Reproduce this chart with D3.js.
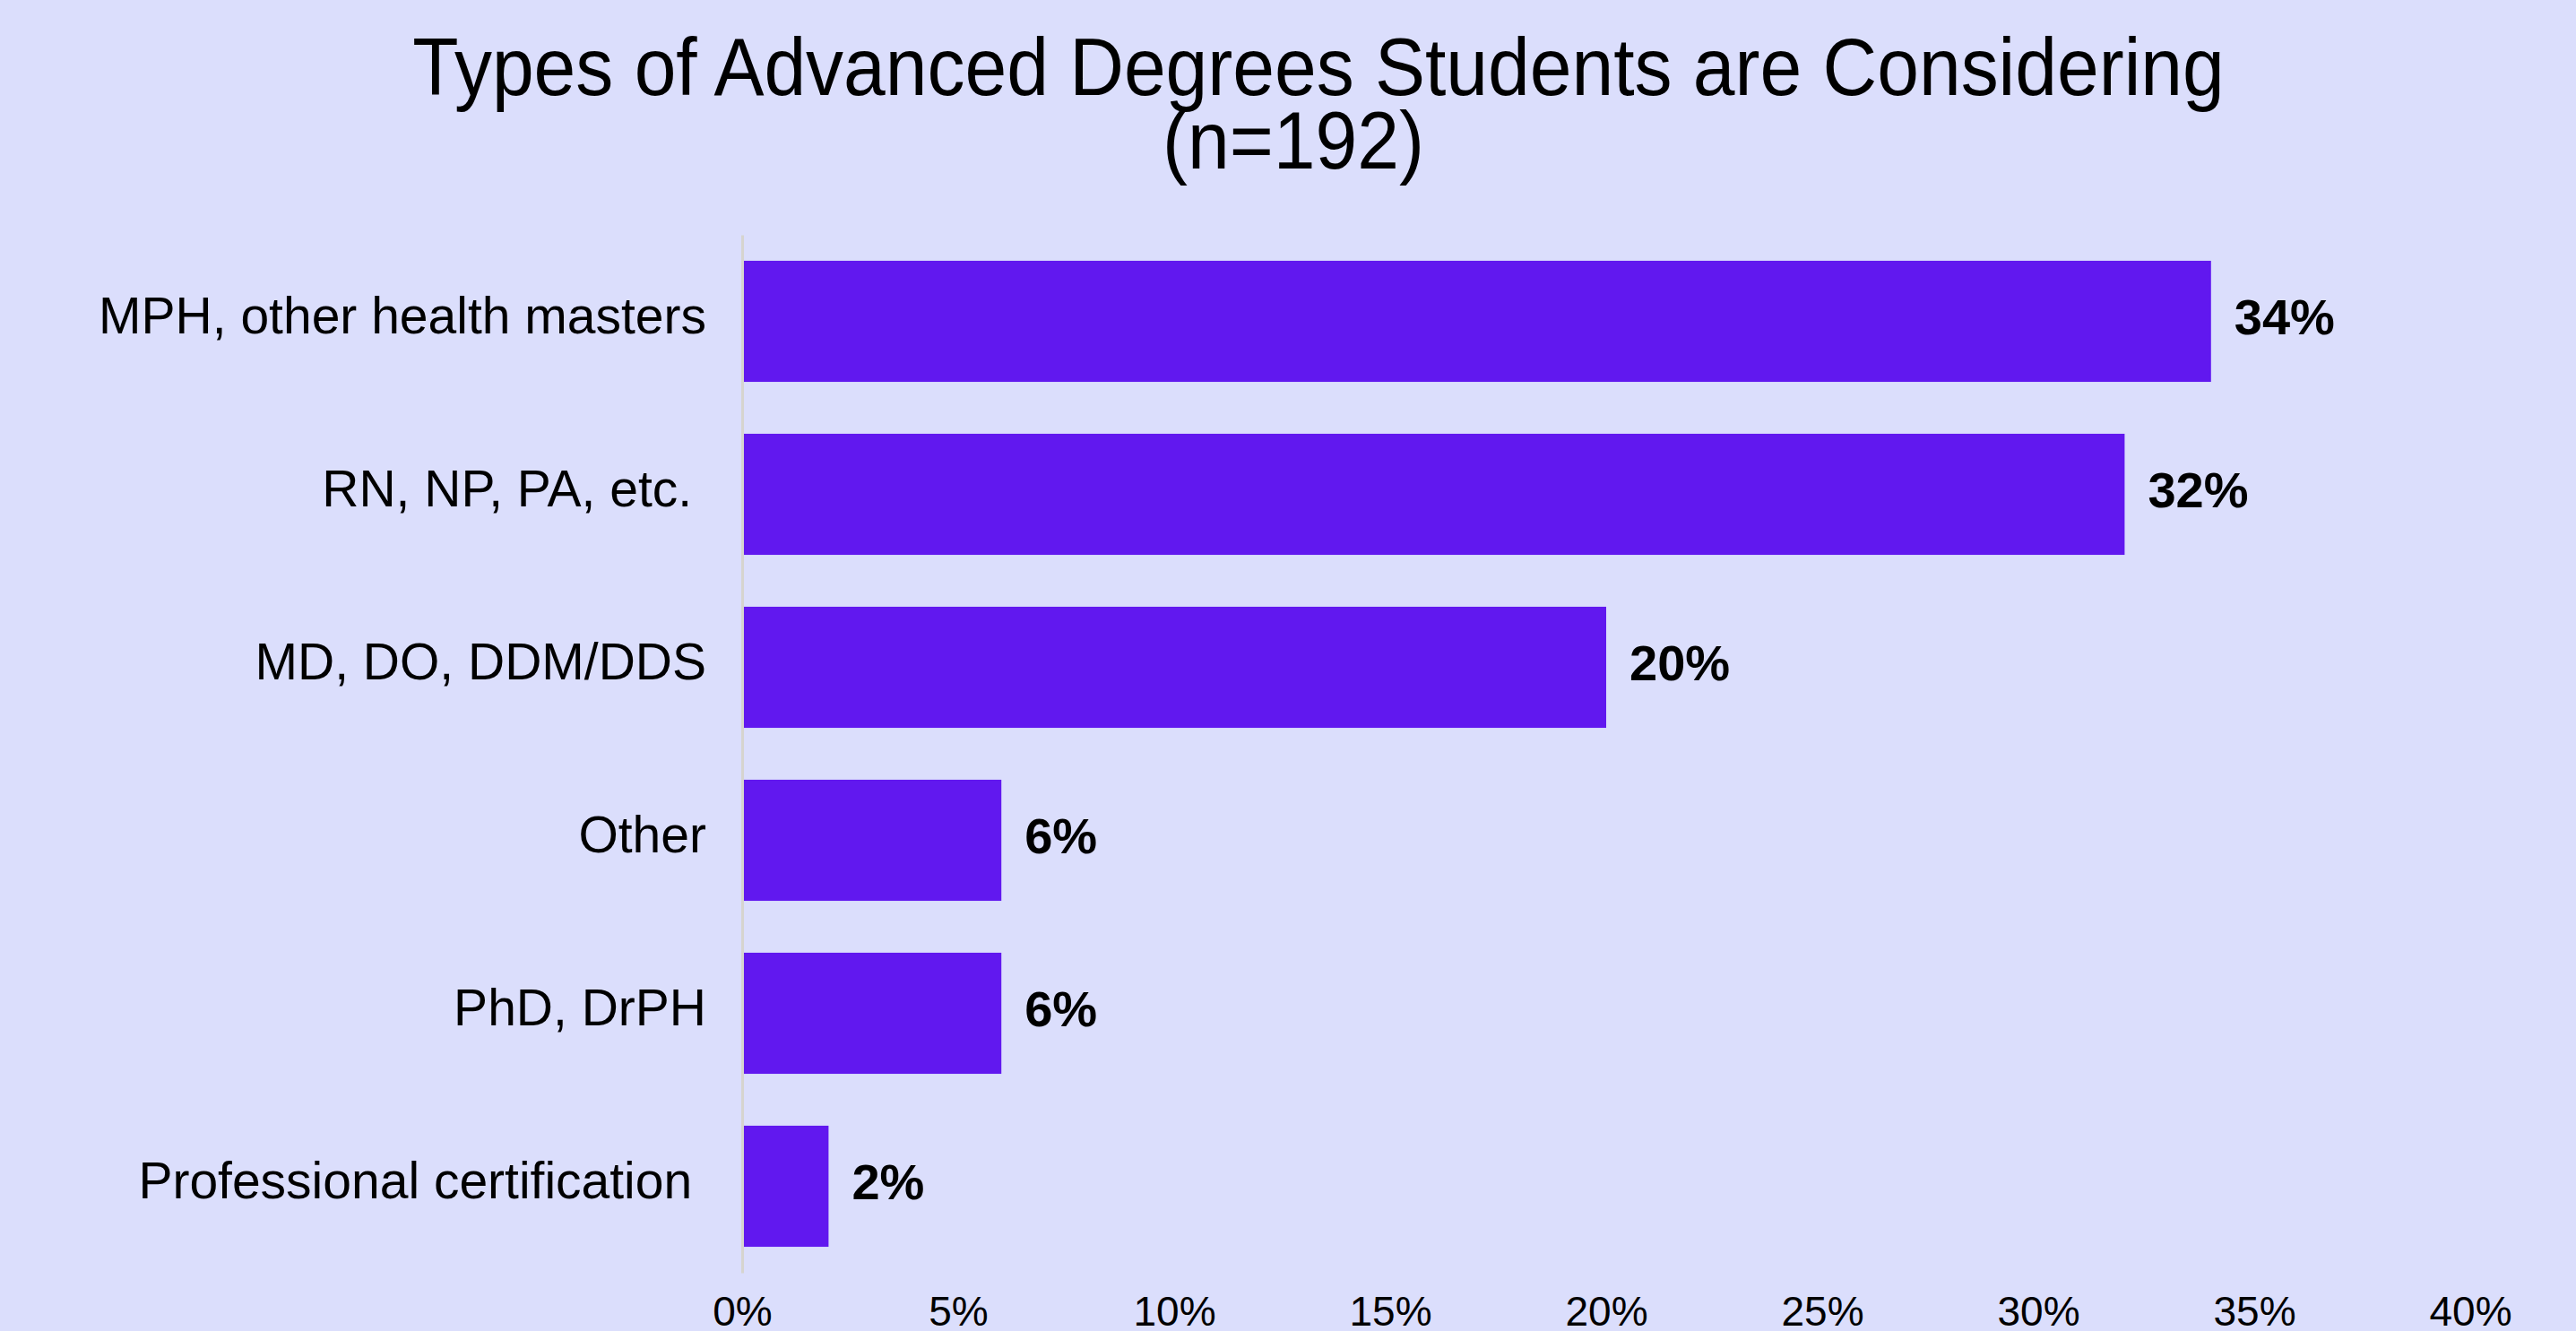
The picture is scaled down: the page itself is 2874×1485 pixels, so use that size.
<!DOCTYPE html>
<html>
<head>
<meta charset="utf-8">
<script src="https://cdn.jsdelivr.net/npm/d3@7"></script>
<style>
  body { margin: 0; background: #dbdefc; }
  svg { display: block; font-family: "Liberation Sans", Arial, Helvetica, sans-serif; }
</style>
</head>
<body>
<script>
// chart data
var categories = ["MPH, other health masters", "RN, NP, PA, etc. ", "MD, DO, DDM/DDS",
                  "Other", "PhD, DrPH", "Professional certification "];
var values = [34, 32, 20, 6, 6, 2];
var tickValues = [0, 5, 10, 15, 20, 25, 30, 35, 40];
var titleLines = ["Types of Advanced Degrees Students are Considering", "(n=192)"];

var w = 2874, h = 1485;

var svg = d3.select("body")
            .append("svg")
            .attr("width", w)
            .attr("height", h);

svg.append("rect")
   .attr("width", w)
   .attr("height", h)
   .attr("fill", "#dbdefc");

// title (glyphs a bit taller than wide in the original)
svg.append("text")
   .attr("transform", "translate(1471,106) scale(1,1.08)")
   .attr("text-anchor", "middle")
   .attr("font-size", 84)
   .attr("fill", "#000")
   .text(titleLines[0]);

svg.append("text")
   .attr("transform", "translate(1443,188) scale(1,1.08)")
   .attr("text-anchor", "middle")
   .attr("font-size", 84)
   .attr("fill", "#000")
   .text(titleLines[1]);

var x = d3.scaleLinear()
          .domain([0, 40])
          .range([828, 2756]);

var y = d3.scaleBand()
          .domain(categories)
          .range([262, 1420])
          .paddingInner(0.3)
          .paddingOuter(0.15);

// bars
svg.selectAll("rect.bar")
   .data(values)
   .enter()
   .append("rect")
   .attr("class", "bar")
   .attr("x", x(0))
   .attr("y", function(d, i) { return y(categories[i]); })
   .attr("width", function(d) { return x(d) - x(0); })
   .attr("height", y.bandwidth())
   .attr("fill", "#6118ef");

// value labels
svg.selectAll("text.val")
   .data(values)
   .enter()
   .append("text")
   .attr("class", "val")
   .attr("x", function(d) { return x(d) + 26; })
   .attr("y", function(d, i) { return y(categories[i]) + y.bandwidth() / 2 + 14; })
   .attr("font-size", 56)
   .attr("font-weight", "bold")
   .attr("fill", "#000")
   .text(function(d) { return d + "%"; });

// left axis (category labels + light vertical line)
var yAxis = svg.append("g")
               .attr("transform", "translate(" + x(0) + ",0)")
               .call(d3.axisLeft(y).tickSize(0).tickPadding(40));

yAxis.select(".domain")
     .attr("stroke", "#d6d4cf")
     .attr("stroke-width", 3);

yAxis.selectAll("text")
     .attr("font-size", 57)
     .attr("font-family", null)
     .attr("fill", "#000")
     .attr("dy", "0.24em")
     .style("white-space", "pre");

// bottom axis (tick labels only)
var xAxis = svg.append("g")
               .attr("transform", "translate(0,1432)")
               .call(d3.axisBottom(x)
                       .tickValues(tickValues)
                       .tickSize(0)
                       .tickFormat(function(d) { return d + "%"; }));

xAxis.select(".domain").remove();

xAxis.selectAll("text")
     .attr("font-size", 46)
     .attr("font-family", null)
     .attr("fill", "#000")
     .attr("y", 47)
     .attr("dy", 0);
</script>
</body>
</html>
